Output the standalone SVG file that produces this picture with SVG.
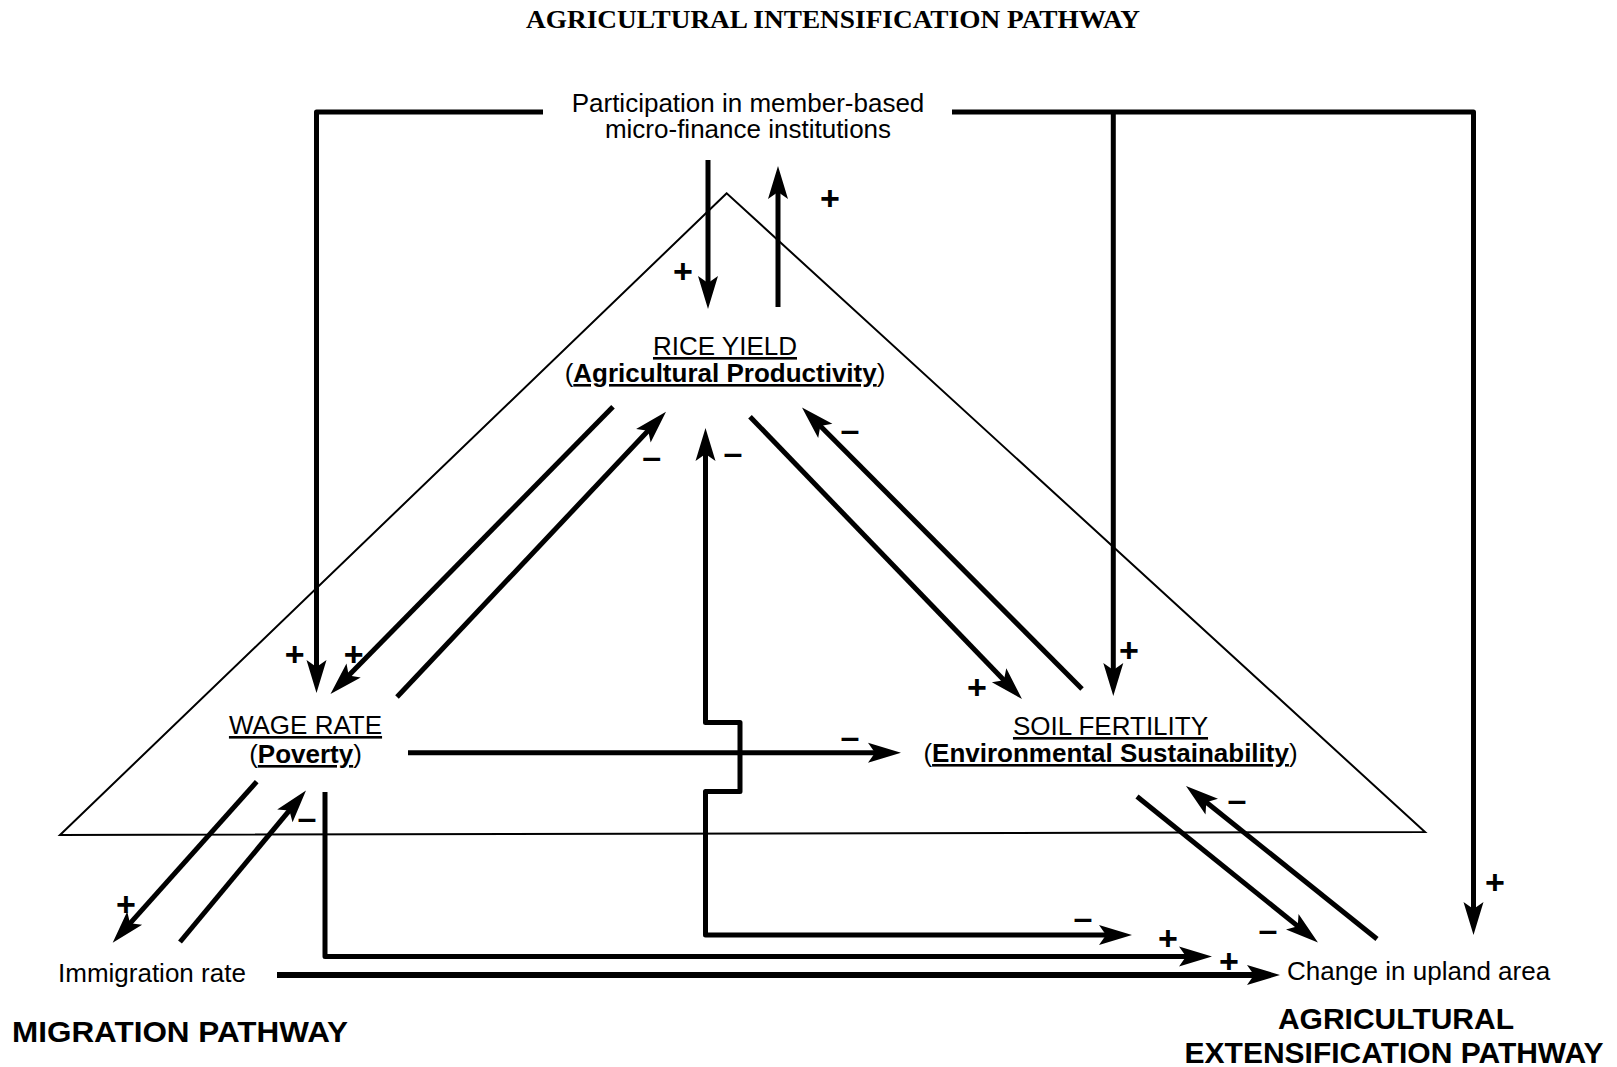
<svg xmlns="http://www.w3.org/2000/svg" width="1617" height="1067" viewBox="0 0 1617 1067">
<style>
.t{font-family:"Liberation Sans",Arial,sans-serif;font-size:26px;fill:#000}
.u{text-decoration:underline}
.b{font-weight:bold}
.hd{font-family:"Liberation Sans",Arial,sans-serif;font-size:30px;font-weight:bold;fill:#000}
.title{font-family:"Liberation Serif","Times New Roman",serif;font-size:26px;font-weight:bold;fill:#000}
.sg{font-family:"Liberation Sans",Arial,sans-serif;font-size:34px;font-weight:bold;fill:#000;text-anchor:middle}
.c{fill:none;stroke:#000;stroke-width:5;stroke-linejoin:round;marker-end:url(#ah)}
.tri{fill:none;stroke:#000;stroke-width:2}
</style>
<defs>
<marker id="ah" viewBox="-14 -11 36 22" markerWidth="36" markerHeight="22" refX="0" refY="0" orient="auto-start-reverse" markerUnits="userSpaceOnUse">
<path d="M20,0 L-13,-10 L-6,0 L-13,10 Z" fill="#000"/>
</marker>
</defs>
<rect width="1617" height="1067" fill="#fff"/>
<text class="title" x="526" y="28" textLength="614" lengthAdjust="spacingAndGlyphs">AGRICULTURAL INTENSIFICATION PATHWAY</text>
<g id="triangle"><polygon class="tri" points="726.7,193.3 60,835 1425,832"/></g>
<g id="connectors">
<path class="c" d="M708,160 V289"/>
<path class="c" d="M778,307 V186"/>
<path class="c" d="M543,112 H316.5 V673"/>
<path class="c" d="M613,406.7 L344.5,679.7"/>
<path class="c" d="M397,697 L652.3,426.3"/>
<path class="c" d="M750,416.7 L1008.1,684.6"/>
<path class="c" d="M1082,689 L816.1,421.7"/>
<path class="c" d="M952,112 H1473.5 V915"/>
<path class="c" d="M1113.3,112 V676"/>
<path class="c" d="M408,752.7 H881"/>
<path class="c" d="M1112,935 H705.5 V791.5 H740 V722.5 H705.5 V448" style="marker-start:url(#ah)"/>
<path class="c" d="M325,792 V956.5 H1192"/>
<path class="c" d="M277,975 H1260" style="stroke-width:6"/>
<path class="c" d="M256.7,781.7 L126,927.8"/>
<path class="c" d="M180,942 L293.2,805.9"/>
<path class="c" d="M1137,796.5 L1302.4,929.9"/>
<path class="c" d="M1377,939 L1201.6,798.5"/>
</g>
<g id="signs">
<text class="sg" x="830" y="210">+</text>
<text class="sg" x="683" y="283">+</text>
<text class="sg" x="294.7" y="666">+</text>
<text class="sg" x="353.7" y="666">+</text>
<text class="sg" x="651.7" y="467.5">–</text>
<text class="sg" x="733" y="463.5">–</text>
<text class="sg" x="850" y="441">–</text>
<text class="sg" x="977" y="699">+</text>
<text class="sg" x="1129" y="662">+</text>
<text class="sg" x="850" y="748">–</text>
<text class="sg" x="1237" y="811">–</text>
<text class="sg" x="307" y="828.5">–</text>
<text class="sg" x="126" y="916">+</text>
<text class="sg" x="1083" y="928.5">–</text>
<text class="sg" x="1168" y="950">+</text>
<text class="sg" x="1229" y="973">+</text>
<text class="sg" x="1268" y="940.5">–</text>
<text class="sg" x="1495" y="894">+</text>
</g>
<g id="participation">
<text class="t" x="748" y="112" text-anchor="middle">Participation in member-based</text>
<text class="t" x="748" y="138" text-anchor="middle">micro-finance institutions</text>
</g>
<g id="rice-yield">
<text class="t u" x="725" y="355" text-anchor="middle">RICE YIELD</text>
<text class="t" x="725" y="382" text-anchor="middle">(<tspan class="b u">Agricultural Productivity</tspan>)</text>
</g>
<g id="wage-rate">
<text class="t u" x="305.5" y="734" text-anchor="middle">WAGE RATE</text>
<text class="t" x="305.5" y="763" text-anchor="middle">(<tspan class="b u">Poverty</tspan>)</text>
</g>
<g id="soil-fertility">
<text class="t u" x="1110.5" y="735" text-anchor="middle">SOIL FERTILITY</text>
<text class="t" x="1110.5" y="762" text-anchor="middle">(<tspan class="b u">Environmental Sustainability</tspan>)</text>
</g>
<g id="immigration">
<text class="t" x="58" y="982">Immigration rate</text>
</g>
<g id="upland">
<text class="t" x="1287" y="980">Change in upland area</text>
</g>
<g id="pathway-labels">
<text class="hd" x="12" y="1042" textLength="336" lengthAdjust="spacingAndGlyphs">MIGRATION PATHWAY</text>
<text class="hd" x="1396" y="1029" text-anchor="middle">AGRICULTURAL</text>
<text class="hd" x="1394" y="1062.5" text-anchor="middle">EXTENSIFICATION PATHWAY</text>
</g>
</svg>
